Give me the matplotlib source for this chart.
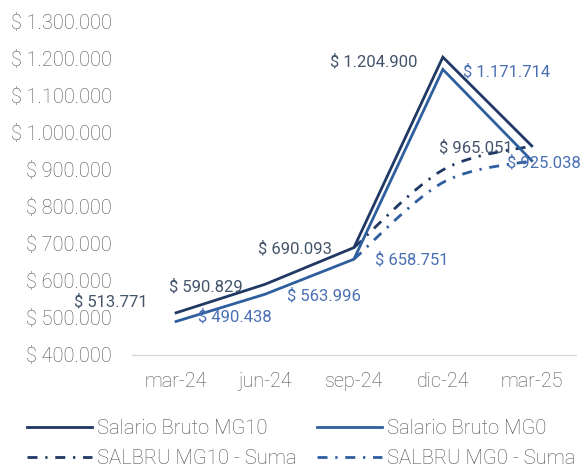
import numpy as np
import matplotlib
matplotlib.use("Agg")
import matplotlib.pyplot as plt
from matplotlib.path import Path
from matplotlib.patches import PathPatch
from matplotlib.lines import Line2D

plt.rcParams['font.family'] = ['Roboto', 'DejaVu Sans']
plt.rcParams['font.weight'] = 'light'

months = ["mar-24", "jun-24", "sep-24", "dic-24", "mar-25"]
bruto_mg10 = [513771, 590829, 690093, 1204900, 965051]
bruto_mg0 = [490438, 563996, 658751, 1171714, 925038]
# "Suma" series only exist from sep-24 on
suma_mg10 = [np.nan, np.nan, 690093, 900000, 965051]
suma_mg0 = [np.nan, np.nan, 658751, 866000, 925038]
y_ticks = [400000, 500000, 600000, 700000, 800000, 900000, 1000000, 1100000, 1200000, 1300000]

c_mg10 = "#1f3864"
c_mg0 = "#2e5e9e"
c_lab10 = "#44546a"
c_lab0 = "#4a70b4"
c_text = "#505050"
dash = (3.6, 2.8, 0.8, 2.8)


def money(v):
    return "$ " + f"{v:,.0f}".replace(",", ".")


def smooth_path(xs, ys):
    # catmull-rom -> cubic bezier, like excel's smoothed line
    pts = [(x, y) for x, y in zip(xs, ys) if not np.isnan(y)]
    verts = [pts[0]]
    codes = [Path.MOVETO]
    for i in range(len(pts) - 1):
        p0 = pts[i - 1] if i > 0 else pts[i]
        p1 = pts[i]
        p2 = pts[i + 1]
        p3 = pts[i + 2] if i + 2 < len(pts) else pts[i + 1]
        c1 = (p1[0] + (p2[0] - p0[0]) / 6, p1[1] + (p2[1] - p0[1]) / 6)
        c2 = (p2[0] - (p3[0] - p1[0]) / 6, p2[1] - (p3[1] - p1[1]) / 6)
        verts += [c1, c2, p2]
        codes += [Path.CURVE4] * 3
    return Path(verts, codes)


fig = plt.figure(figsize=(5.85, 4.67), dpi=100)
ax = fig.add_axes([0.225, 0.240, 0.760, 0.713])

x = np.arange(len(months))
ax.plot(x, bruto_mg10, color=c_mg10, lw=2.0, solid_joinstyle="miter", zorder=3)
ax.plot(x, bruto_mg0, color=c_mg0, lw=2.0, solid_joinstyle="miter", zorder=3)
for vals, col in [(suma_mg10, c_mg10), (suma_mg0, c_mg0)]:
    patch = PathPatch(smooth_path(x, vals), fill=False, edgecolor=col, lw=2.0,
                      linestyle=(0, dash), zorder=2)
    ax.add_patch(patch)

off10 = [(-28, 11), (-22, -2), (-22, -1), (-25, -5), (-19, -2)]
off0 = [(22, 5), (22, -2), (21, -1), (20, -2), (-25, -2)]
for i, v in enumerate(bruto_mg10):
    ax.annotate(money(v), (x[i], v), xytext=off10[i], textcoords="offset pixels",
                ha="right", va="center", color=c_lab10, fontsize=12,
                fontweight="normal", zorder=4)
for i, v in enumerate(bruto_mg0):
    ax.annotate(money(v), (x[i], v), xytext=off0[i], textcoords="offset pixels",
                ha="left", va="center", color=c_lab0, fontsize=12,
                fontweight="normal", zorder=4)

ax.set_xlim(-0.5, len(months) - 0.5)
ax.set_ylim(400000, 1300000)
ax.set_xticks(x)
ax.set_xticklabels(months)
ax.set_yticks(y_ticks)
ax.set_yticklabels([money(v) for v in y_ticks])
ax.tick_params(length=0, labelsize=14.3, labelcolor=c_text)
ax.tick_params(axis="y", pad=14)
ax.tick_params(axis="x", pad=12)
for s in ["top", "right", "left"]:
    ax.spines[s].set_visible(False)
ax.spines["bottom"].set_color("#d9d9d9")
ax.spines["bottom"].set_linewidth(1.0)

handles = [
    Line2D([], [], color=c_mg10, lw=2.0),
    Line2D([], [], color=c_mg0, lw=2.0),
    Line2D([], [], color=c_mg10, lw=2.0, dashes=dash),
    Line2D([], [], color=c_mg0, lw=2.0, dashes=dash),
]
labels = ["Salario Bruto MG10", "Salario Bruto MG0", "SALBRU MG10 - Suma", "SALBRU MG0 - Suma"]
# column-major ordering: first column MG10, second column MG0
order = [0, 2, 1, 3]
fig.legend([handles[i] for i in order], [labels[i] for i in order], ncol=2,
           loc="upper left", bbox_to_anchor=(0.046, 0.102), frameon=False,
           fontsize=14.6, labelcolor=c_text, handlelength=3.2, handletextpad=0.25,
           columnspacing=1.0, labelspacing=0.52, borderpad=0, borderaxespad=0)

fig.savefig("out.png", dpi=100)
